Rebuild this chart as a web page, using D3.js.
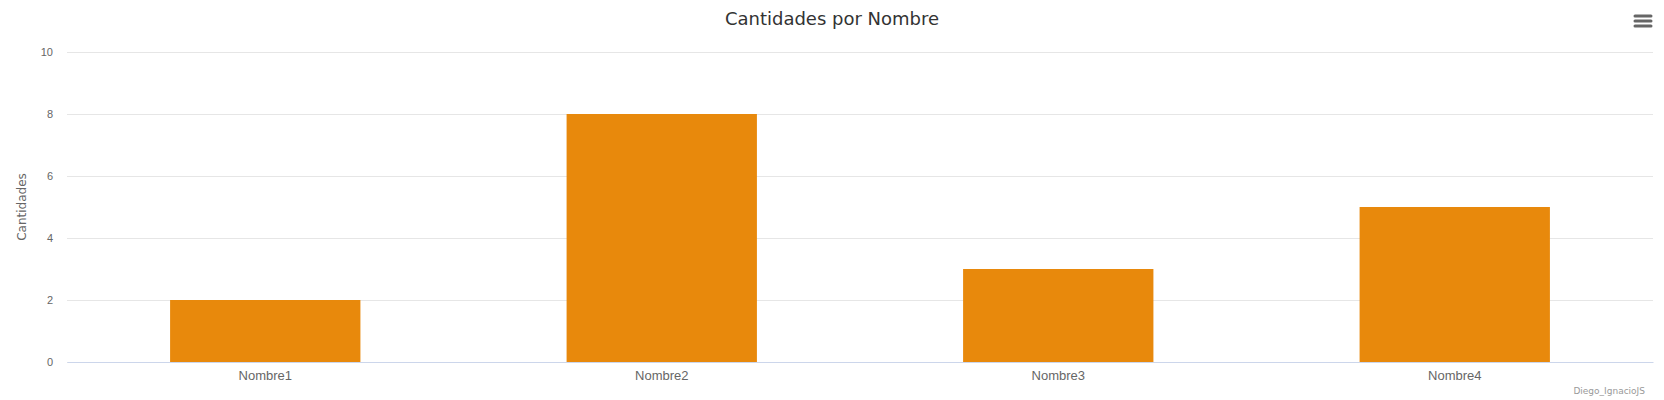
<!DOCTYPE html>
<html>
<head>
<meta charset="utf-8">
<script src="https://cdn.jsdelivr.net/npm/d3@7"></script>
<style>
  body { margin: 0; background: #fff; }
  #chart-area { width: 1664px; height: 400px; }
</style>
</head>
<body>
<div id="chart-area"></div>
<script>
// Datos
const nombres = ["Nombre1", "Nombre2", "Nombre3", "Nombre4"];
const cantidades = [2, 8, 3, 5];
const yTicks = [0, 2, 4, 6, 8, 10];

const W = 1664, H = 400;
const margin = { top: 52, right: 11, bottom: 38, left: 67 };
const width = W - margin.left - margin.right;
const height = H - margin.top - margin.bottom;

const svg = d3.select("#chart-area")
    .append("svg")
    .attr("width", W)
    .attr("height", H)
    .style("font-family", "'DejaVu Sans', Verdana, sans-serif");

const g = svg.append("g")
    .attr("transform", `translate(${margin.left}, ${margin.top})`);

// Escalas
const x = d3.scaleBand()
    .domain(nombres)
    .range([0, width])
    .paddingInner(0.52)
    .paddingOuter(0.26);

const y = d3.scaleLinear()
    .domain([0, 10])
    .range([height, 0]);

// Lineas de la grilla
const leftAxis = d3.axisLeft(y).tickValues(yTicks).tickSize(-width).tickPadding(14);
const gy = g.append("g").attr("class", "left axis").call(leftAxis);
gy.select(".domain").remove();
gy.selectAll(".tick line").attr("stroke", "#e6e6e6");
gy.selectAll(".tick text")
    .attr("fill", "#666")
    .attr("font-size", "11px");

// Rectangulos
g.selectAll("rect.bar")
    .data(cantidades)
    .enter()
    .append("rect")
    .attr("class", "bar")
    .attr("x", (d, i) => x(nombres[i]))
    .attr("y", d => y(d))
    .attr("width", x.bandwidth())
    .attr("height", d => height - y(d))
    .attr("fill", "#e8890c");

// Eje X
const bottomAxis = d3.axisBottom(x).tickSize(0).tickPadding(9);
const gx = g.append("g")
    .attr("class", "bottom axis")
    .attr("transform", `translate(0, ${height})`)
    .call(bottomAxis);
gx.select(".domain").attr("stroke", "#ccd6eb");
gx.selectAll(".tick text")
    .attr("fill", "#666")
    .attr("font-size", "13px");

// Titulo
svg.append("text")
    .attr("x", 832)
    .attr("y", 25)
    .attr("text-anchor", "middle")
    .attr("font-size", "18px")
    .attr("fill", "#333")
    .text("Cantidades por Nombre");

// Etiqueta eje Y
svg.append("text")
    .attr("transform", "rotate(-90)")
    .attr("x", -(margin.top + height / 2))
    .attr("y", 26)
    .attr("text-anchor", "middle")
    .attr("font-size", "12px")
    .attr("fill", "#666")
    .text("Cantidades");

// Credito
svg.append("text")
    .attr("x", W - 19)
    .attr("y", 394)
    .attr("text-anchor", "end")
    .attr("font-size", "9px")
    .attr("fill", "#999")
    .text("Diego_IgnacioJS");

// Menu
const menu = svg.append("g").attr("transform", "translate(1634, 15)");
[0, 5, 10].forEach(dy => {
    menu.append("line")
        .attr("x1", 1).attr("x2", 17)
        .attr("y1", dy + 1).attr("y2", dy + 1)
        .attr("stroke", "#666")
        .attr("stroke-width", 3)
        .attr("stroke-linecap", "round");
});
</script>
</body>
</html>
